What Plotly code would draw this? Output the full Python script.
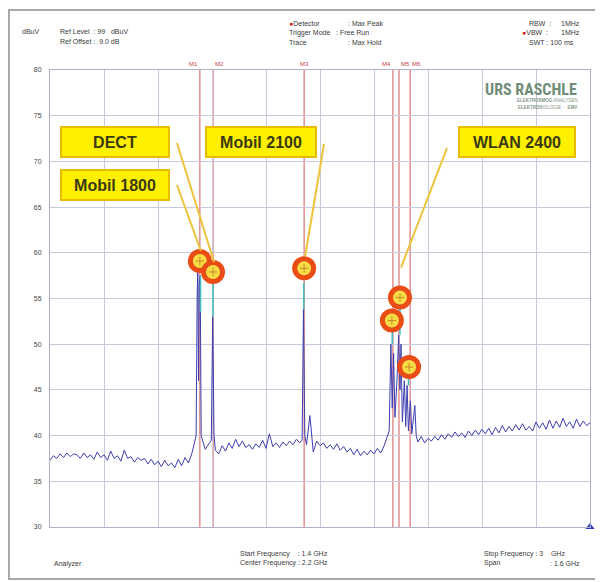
import numpy as np
import plotly.graph_objects as go

# ---------------- data ----------------
START_GHZ = 1.4
STOP_GHZ = 3.0
STEP_GHZ = 0.01

noise_levels = [
    37.3, 37.8, 37.5, 38.0, 37.6, 38.1, 37.7, 38.0, 37.9, 37.5,   # 1.40-1.49
    38.1, 37.6, 37.9, 37.4, 38.2, 37.6, 37.9, 37.3, 38.3, 37.5,   # 1.50-1.59
    37.8, 37.2, 38.4, 37.5, 37.7, 37.1, 37.6, 37.3, 37.5, 36.9,   # 1.60-1.69
    37.4, 36.8, 37.2, 36.6, 37.3, 36.7, 37.0, 36.5, 37.4, 36.7,   # 1.70-1.79
    37.6, 37.0, 38.0, 38.5, 39.0, 40.5, 38.5, 39.0, 38.6, 38.4,   # 1.80-1.89
    38.0, 38.9, 38.3, 39.2, 38.6, 39.6, 38.8, 39.4, 38.7, 39.0,   # 1.90-1.99
    38.5, 39.1, 38.7, 39.5, 38.6, 40.2, 38.8, 39.2, 38.7, 39.3,   # 2.00-2.09
    38.9, 39.4, 39.0, 39.6, 39.2, 39.5, 39.0, 42.2, 38.2, 39.4,   # 2.10-2.19
    38.9, 39.2, 38.6, 39.0, 38.5, 39.1, 38.4, 38.8, 38.2, 38.6,   # 2.20-2.29
    37.9, 38.5, 37.8, 38.3, 37.9, 38.4, 38.0, 38.6, 38.1, 38.9,   # 2.30-2.39
    40.0, 41.0, 40.0, 40.5, 40.0, 40.5, 40.0, 39.5, 41.0, 39.3,   # 2.40-2.49
    39.9, 39.2, 39.7, 39.4, 39.9, 39.5, 40.1, 39.6, 40.2, 39.8,   # 2.50-2.59
    40.4, 39.9, 40.3, 39.8, 40.5, 40.0, 40.6, 40.1, 40.7, 40.2,   # 2.60-2.69
    40.8, 40.1, 40.9, 40.3, 41.1, 40.4, 41.0, 40.5, 41.2, 40.6,   # 2.70-2.79
    41.3, 40.6, 41.0, 40.5, 41.5, 40.8, 41.4, 40.7, 41.7, 40.8,   # 2.80-2.89
    41.6, 40.9, 41.9, 41.0, 41.5, 40.8, 41.8, 41.0, 41.6, 41.1,   # 2.90-2.99
    41.4,                                                         # 3.00
]

# narrow emissions (GHz, dBuV)
peak_freqs = [1.833, 1.836, 1.838, 1.840, 1.842, 1.845, 1.848,
              1.878, 1.882, 1.886,
              2.147, 2.151, 2.155,
              2.405, 2.410, 2.414, 2.418, 2.422, 2.428, 2.433, 2.437, 2.440,
              2.444, 2.450, 2.454, 2.458, 2.462, 2.468, 2.472, 2.481, 2.485]
peak_levels = [40.0, 55.0, 58.5, 46.0, 56.5, 57.5, 40.0,
               39.5, 53.0, 40.0,
               39.5, 53.8, 40.0,
               40.5, 50.0, 43.0, 49.0, 42.0, 46.0, 51.0, 45.0, 50.0,
               41.5, 46.0, 41.0, 45.5, 40.5, 43.8, 40.2, 43.3, 40.0]
peak_windows = [(1.830, 1.852), (1.875, 1.889), (2.144, 2.158), (2.402, 2.488)]

# max-hold stems just below the marker circles
stem_freqs = [1.846, 1.846, None, 1.883, 1.883, None, 2.152, 2.152, None,
              2.414, 2.414, None, 2.437, 2.437, None, 2.462, 2.462]
stem_levels = [53.5, 57.5, None, 53.0, 57.3, None, 53.8, 56.7, None,
               50.0, 52.3, None, 51.0, 54.7, None, 45.5, 47.2]

# markers
marker_names = ["M1", "M2", "M3", "M4", "M5", "M6"]
marker_freqs = [1.844, 1.883, 2.153, 2.416, 2.434, 2.467]

# highlight circles
circle_freqs = [1.844, 1.883, 2.153, 2.413, 2.437, 2.464]
circle_levels = [59.1, 57.9, 58.3, 52.6, 55.1, 47.5]

label_texts = ["DECT", "Mobil 1800", "Mobil 2100", "WLAN 2400"]

y_ticks = [30, 35, 40, 45, 50, 55, 60, 65, 70, 75, 80]

# ---------------- build trace ----------------
n = int(round((STOP_GHZ - START_GHZ) / STEP_GHZ)) + 1
noise_freqs = np.round(np.linspace(START_GHZ, STOP_GHZ, n), 3)
pts = []
for f, v in zip(noise_freqs, noise_levels):
    if any(a <= f <= b for a, b in peak_windows):
        continue
    pts.append((float(f), v))
pts += list(zip(peak_freqs, peak_levels))
pts.sort()
trace_x = [p[0] for p in pts]
trace_y = [p[1] for p in pts]

# ---------------- geometry (page pixels; page body has 8px margin) ----------------
OFF = 8
W, H = 603 - OFF, 582 - OFF
PLOT_L, PLOT_R, PLOT_T, PLOT_B = 50, 590, 70, 527   # page pixels
L, T = PLOT_L - OFF, PLOT_T - OFF
R, B = W - (PLOT_R - OFF), H - (PLOT_B - OFF)
PW, PH = PLOT_R - PLOT_L, PLOT_B - PLOT_T


def px(xp):
    return (xp - PLOT_L) / PW


def py(yp):
    return (PLOT_B - yp) / PH


def fx(f):
    return PLOT_L + (f - START_GHZ) / (STOP_GHZ - START_GHZ) * PW


def fy(v):
    return PLOT_T + (80 - v) / 50 * PH


fig = go.Figure()

# marker lines
for f in marker_freqs:
    fig.add_shape(type="line", xref="x", yref="paper", x0=f, x1=f, y0=0, y1=1,
                  line=dict(color="rgba(205,70,70,0.75)", width=1.2), layer="below")

fig.add_trace(go.Scatter(x=trace_x, y=trace_y, mode="lines",
                         line=dict(color="#3d3db0", width=1), hoverinfo="skip",
                         showlegend=False))
fig.add_trace(go.Scatter(x=stem_freqs, y=stem_levels, mode="lines",
                         line=dict(color="#40c0c0", width=1.5), showlegend=False,
                         connectgaps=False))

# leader lines (box edge -> circle)
leaders = [
    ((177, 143), 1, 10),   # DECT -> M2 circle
    ((177, 185), 0, 10),   # Mobil 1800 -> M1 circle
    ((324, 144), 2, 12),   # Mobil 2100 -> M3
    ((447, 148), 4, 30),   # WLAN -> M5
]
for (bx, by), ci, gap in leaders:
    fig.add_shape(type="line", xref="paper", yref="paper",
                  x0=px(bx), y0=py(by),
                  x1=px(fx(circle_freqs[ci]) + 1), y1=py(fy(circle_levels[ci]) - gap),
                  line=dict(color="#ecc43a", width=2))

fig.add_trace(go.Scatter(x=circle_freqs, y=circle_levels, mode="markers",
                         marker=dict(size=19, color="#f6dc46",
                                     line=dict(color="#ea4c16", width=5)),
                         showlegend=False, cliponaxis=False))
fig.add_trace(go.Scatter(x=circle_freqs, y=circle_levels, mode="markers",
                         marker=dict(size=6, symbol="cross-thin",
                                     line=dict(color="#c88a20", width=1)),
                         showlegend=False))
fig.add_trace(go.Scatter(x=[STOP_GHZ], y=[30], mode="markers",
                         marker=dict(symbol="triangle-up", size=8, color="#2a3cc8"),
                         showlegend=False, cliponaxis=False))

# frame
fig.add_shape(type="rect", xref="paper", yref="paper",
              x0=px(9), x1=px(598), y0=py(579), y1=py(10),
              line=dict(color="#a8a8a8", width=2), layer="below")

ann = []
small = dict(family="Arial", size=7, color="#3a3a3a")
label_anchor = {"M1": "right", "M2": "left", "M3": "center",
                "M4": "right", "M5": "left", "M6": "left"}
for name, f in zip(marker_names, marker_freqs):
    ann.append(dict(x=f, y=1, xref="x", yref="paper", yanchor="bottom",
                    xanchor=label_anchor[name], text=name, showarrow=False,
                    font=dict(family="Arial", size=6, color="#c84040"), yshift=1))
info = [
    (20, 32, "dBuV", "left"),
    (58, 32, "Ref Level  : 99   dBuV", "left"),
    (58, 41, "Ref Offset :  9.0 dB", "left"),
    (287, 24, "<span style='color:#d02020'>●</span>Detector", "left"),
    (287, 33, "Trigger Mode", "left"),
    (287, 42, "Trace", "left"),
    (346, 24, ": Max Peak", "left"),
    (334, 33, ": Free Run", "left"),
    (346, 42, ": Max Hold", "left"),
    (527, 24, "RBW  :", "left"),
    (520, 33, "<span style='color:#d02020'>●</span>VBW  :", "left"),
    (527, 42, "SWT : 100 ms", "left"),
    (582, 24, "1MHz", "right"),
    (582, 33, "1MHz", "right"),
    (52, 564, "Analyzer", "left"),
    (238, 554, "Start Frequency    : 1.4 GHz", "left"),
    (238, 563, "Center Frequency : 2.2 GHz", "left"),
    (482, 554, "Stop Frequency : 3    GHz", "left"),
    (482, 563, "Span", "left"),
    (582, 563, ": 1.6 GHz", "right"),
]
for x0, y0, t, xa in info:
    ann.append(dict(x=px(x0), y=py(y0), xref="paper", yref="paper", text=t,
                    xanchor=xa, yanchor="middle", showarrow=False, font=small))

# logo
ann += [
    dict(x=px(579), y=py(89), xref="paper", yref="paper", text="<b>URS RASCHLE</b>",
         xanchor="right", yanchor="middle", showarrow=False,
         font=dict(family="Liberation Sans Narrow, Roboto Condensed, Arial", size=16,
                   color="#6f8d77")),
    dict(x=px(579), y=py(101), xref="paper", yref="paper",
         text="<b>ELEKTROSMOG</b>-ANALYSEN", xanchor="right", yanchor="middle",
         showarrow=False, font=dict(family="Arial", size=4.5, color="#7f9683")),
    dict(x=px(579), y=py(107), xref="paper", yref="paper",
         text="<b>ELEKTRO</b>BIOLOGIE  ·  <b>EMV</b>", xanchor="right", yanchor="middle",
         showarrow=False, font=dict(family="Arial", size=4.5, color="#7f9683")),
]

# yellow label boxes: (centre x, centre y, width) in page pixels
box_pos = [(115, 142, 110), (115, 185, 110), (261, 142, 112), (517, 142, 118)]
for txt, (cx, cy, bw) in zip(label_texts, box_pos):
    ann.append(dict(x=px(cx), y=py(cy), xref="paper", yref="paper", text="<b>" + txt + "</b>",
                    showarrow=False, xanchor="center", yanchor="middle",
                    width=bw - 8, height=24, bgcolor="#fff000", bordercolor="#e8bc00",
                    borderwidth=2, borderpad=2,
                    font=dict(family="Arial", size=16, color="#3a3a12")))

fig.update_layout(
    width=W, height=H, margin=dict(l=L, r=R, t=T, b=B),
    paper_bgcolor="white", plot_bgcolor="white",
    annotations=ann, showlegend=False,
    xaxis=dict(range=[START_GHZ, STOP_GHZ], tick0=START_GHZ, dtick=0.16,
               showticklabels=False, ticks="", showgrid=True, gridcolor="#c9c9dc",
               gridwidth=1, zeroline=False, showline=True, linecolor="#b0b0c8",
               mirror=True, fixedrange=True),
    yaxis=dict(range=[30, 80], tickvals=y_ticks, showgrid=True, gridcolor="#c9c9dc",
               gridwidth=1, zeroline=False, showline=True, linecolor="#b0b0c8",
               mirror=True, ticks="", tickfont=dict(family="Arial", size=7, color="#444"),
               ticklabelstandoff=6, fixedrange=True),
)

fig.write_html("out.html")
